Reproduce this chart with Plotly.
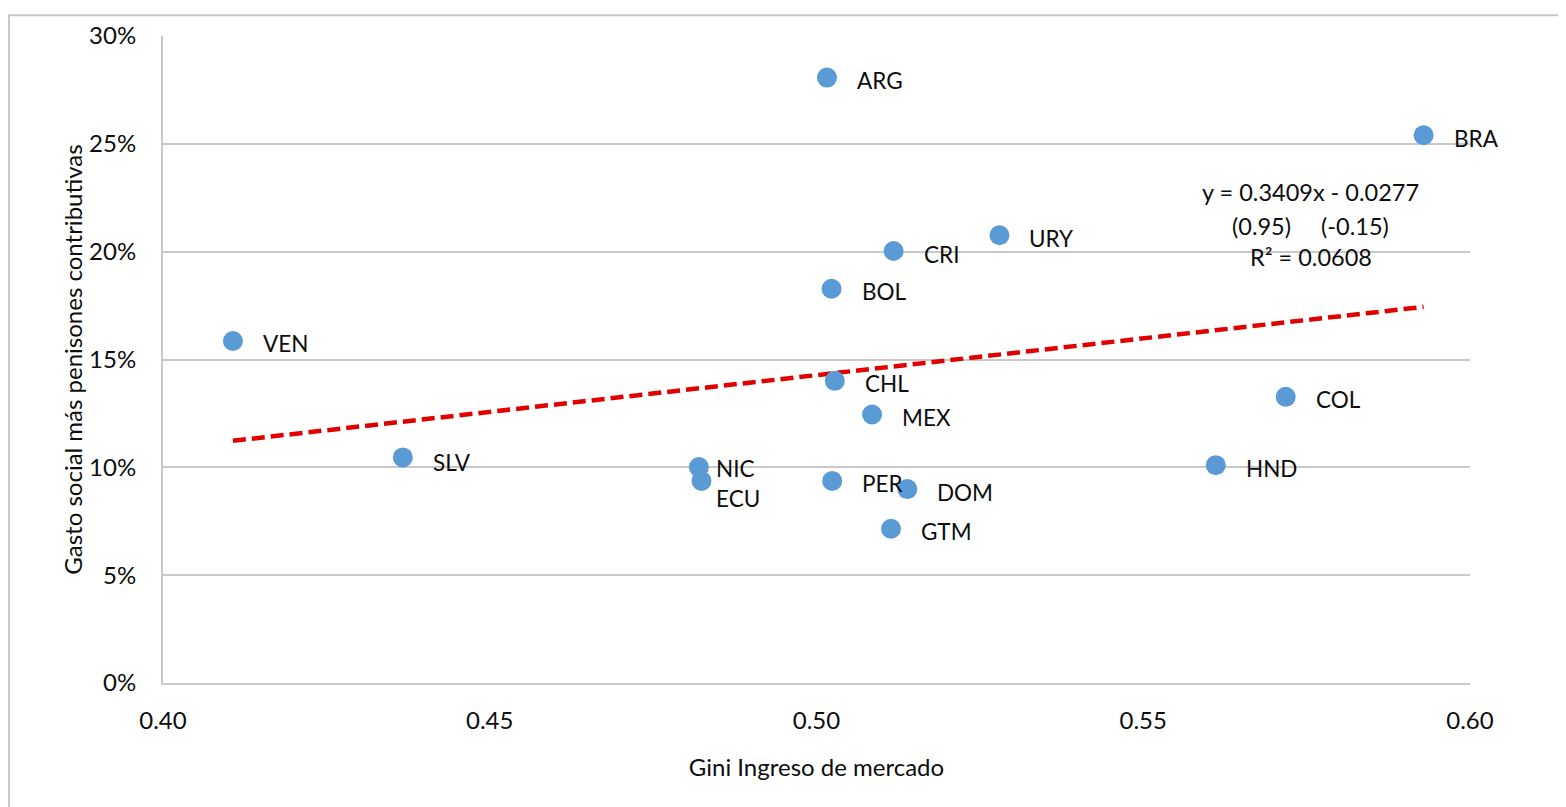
import plotly.graph_objects as go

# ---- data ----
countries = ["ARG", "BRA", "URY", "CRI", "BOL", "VEN", "CHL", "COL", "MEX",
             "SLV", "HND", "NIC", "ECU", "PER", "DOM", "GTM"]
gini = [0.5016, 0.5929, 0.5280, 0.5118, 0.5023, 0.4107, 0.5028, 0.5718, 0.5085,
        0.4367, 0.5611, 0.4820, 0.4824, 0.5024, 0.5139, 0.5114]
gasto = [0.2807, 0.2540, 0.2076, 0.2003, 0.1828, 0.1586, 0.1401, 0.1327, 0.1245,
         0.1046, 0.1010, 0.1001, 0.0937, 0.0937, 0.0899, 0.0715]

slope = 0.3409
intercept = -0.0277
eq_lines = ["y = 0.3409x - 0.0277",
            "(0.95)\u00a0\u00a0\u00a0\u00a0\u00a0(-0.15)",
            "R\u00b2 = 0.0608"]

x_title = "Gini Ingreso de mercado"
y_title = "Gasto social más penisones contributivas"

# label offsets (pixels) for data labels
default_shift = (28, -3)
label_shift = {"NIC": (15, -1), "ECU": (13, -18), "SLV": (28, -5)}

FONT = "Lato, 'Open Sans', sans-serif"
GRID = "#c9c9c9"
TXT = "#0d0d0d"

# page body has an 8px margin; figure sized to fit the window
W, H = 1558, 799
L, R, T, B = 155, 96, 22, 124
PW, PH = W - L - R, H - T - B

fig = go.Figure()

# trend line
xmin, xmax = min(gini), max(gini)
fig.add_trace(go.Scatter(
    x=[xmin, xmax], y=[slope * xmin + intercept, slope * xmax + intercept],
    mode="lines", line=dict(color="#E00000", width=4.5, dash="13px,6px"),
    hoverinfo="skip", showlegend=False))

# points
fig.add_trace(go.Scatter(
    x=gini, y=gasto, mode="markers",
    marker=dict(size=20, color="#5B9BD5", line=dict(width=0)),
    text=countries, hovertemplate="%{text}: %{x:.3f}, %{y:.1%}<extra></extra>",
    showlegend=False))

annotations = []
for c, xv, yv in zip(countries, gini, gasto):
    dx, dy = label_shift.get(c, default_shift)
    annotations.append(dict(x=xv, y=yv, xref="x", yref="y", text=c, showarrow=False,
                            xanchor="left", yanchor="middle", xshift=dx, yshift=dy,
                            font=dict(family=FONT, size=22.5, color=TXT)))

eq_y = [0.2278, 0.2118, 0.1975]
for t, yv in zip(eq_lines, eq_y):
    annotations.append(dict(x=0.5756, y=yv, xref="x", yref="y", text=t, showarrow=False,
                            xanchor="center", yanchor="middle",
                            font=dict(family=FONT, size=23.5, color=TXT)))

fig.update_layout(
    width=W, height=H,
    margin=dict(l=L, r=R, t=T, b=B),
    paper_bgcolor="white", plot_bgcolor="white",
    font=dict(family=FONT, size=22, color=TXT),
    annotations=annotations,
    shapes=[dict(type="rect", xref="paper", yref="paper",
                 x0=(1 - L) / PW, x1=(W + 20 - L) / PW,
                 y0=-(H + 20 - (H - B)) / PH, y1=1 + (T - 1) / PH,
                 line=dict(color="#c8c8c8", width=2), fillcolor="rgba(0,0,0,0)",
                 layer="below")],
    xaxis=dict(range=[0.40, 0.60], dtick=0.05, tick0=0.40, tickformat=".2f",
               showgrid=False, zeroline=False, showline=True, linecolor=GRID, linewidth=2,
               ticks="", ticklabelstandoff=15,
               title=dict(text=x_title, standoff=26, font=dict(size=24)),
               tickfont=dict(size=24)),
    yaxis=dict(range=[0, 0.30], dtick=0.05, tickformat=".0%",
               showgrid=True, gridcolor=GRID, gridwidth=2, zeroline=False,
               showline=True, linecolor=GRID, linewidth=2,
               ticks="", ticklabelstandoff=20,
               title=dict(text=y_title, standoff=0, font=dict(size=24)),
               tickfont=dict(size=24)),
)

fig.write_html("out.html")
